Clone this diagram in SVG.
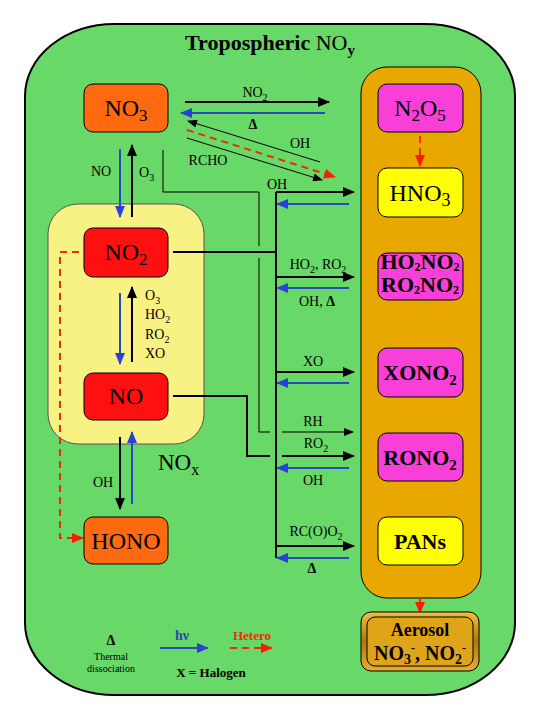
<svg xmlns="http://www.w3.org/2000/svg" width="540" height="720" viewBox="0 0 540 720">
<defs>
<marker id="ak" markerUnits="userSpaceOnUse" markerWidth="12" markerHeight="10" refX="11" refY="5" orient="auto"><path d="M0,0 L12,5 L0,10 z" fill="#000"/></marker>
<marker id="aks" markerUnits="userSpaceOnUse" markerWidth="10" markerHeight="8" refX="9" refY="4" orient="auto"><path d="M0,0 L10,4 L0,8 z" fill="#000"/></marker>
<marker id="ab" markerUnits="userSpaceOnUse" markerWidth="12" markerHeight="10" refX="11" refY="5" orient="auto"><path d="M0,0 L12,5 L0,10 z" fill="#2a40d8"/></marker>
<marker id="ar" markerUnits="userSpaceOnUse" markerWidth="12" markerHeight="10" refX="11" refY="5" orient="auto"><path d="M0,0 L12,5 L0,10 z" fill="#ff1a00"/></marker>
<linearGradient id="gold" x1="0" y1="0" x2="0" y2="1"><stop offset="0" stop-color="#f0c040"/><stop offset="0.5" stop-color="#b07810"/><stop offset="1" stop-color="#e8b030"/></linearGradient>
</defs>
<style>
.t{font-family:"Liberation Serif","Times New Roman",serif;fill:#000}
.lbl{font-size:14px;text-anchor:middle}
.lbs{font-size:14px}
.node{font-size:24px;text-anchor:middle}
.bn{font-size:22px;font-weight:bold;text-anchor:middle}
.k{stroke:#000;stroke-width:2;fill:none}
.kt{stroke:#000;stroke-width:1;fill:none}
.b{stroke:#2a4ab8;stroke-width:2;fill:none}
.r{stroke:#e83000;stroke-width:2;fill:none;stroke-dasharray:7,5}
.box{stroke:#000;stroke-width:1}
</style>
<rect x="0" y="0" width="540" height="720" fill="#fff"/>
<g id="outer">
<rect x="25" y="24" width="490" height="671" rx="90" ry="72" fill="#68d868" stroke="#000" stroke-width="2"/>
<text class="t" x="270" y="50" font-size="22" font-weight="bold" text-anchor="middle">Tropospheric <tspan font-weight="normal">NO</tspan><tspan font-size="15" dy="5">y</tspan></text>
</g>
<g id="panel">
<rect x="361" y="67" width="120" height="531" rx="26" fill="#e8a800" stroke="#000" stroke-width="1"/>
</g>
<g id="NOx">
<rect x="48" y="204" width="156" height="240" rx="30" fill="#f8f284" stroke="#555" stroke-width="1"/>
<text class="t" x="158" y="470" font-size="23">NO<tspan font-size="16" dy="5">x</tspan></text>
</g>
<g id="connectors">
<line class="k" x1="185" y1="102" x2="329" y2="102" marker-end="url(#ak)"/>
<line class="b" x1="325" y1="113" x2="181" y2="113" marker-end="url(#ab)"/>
<line class="kt" x1="320" y1="162" x2="188" y2="121" marker-end="url(#aks)"/>
<line class="r" x1="187" y1="130" x2="335" y2="177" marker-end="url(#ar)"/>
<line class="kt" x1="187" y1="138" x2="322" y2="180" marker-end="url(#aks)"/>
<line class="b" x1="120" y1="149" x2="120" y2="217" marker-end="url(#ab)"/>
<line class="k" x1="132" y1="217" x2="132" y2="145" marker-end="url(#ak)"/>
<polyline class="kt" points="163,150 163,192 259,192 259,246"/>
<polyline class="kt" points="259,258 259,432 270,432"/>
<line class="kt" x1="282" y1="432" x2="353" y2="432" marker-end="url(#aks)"/>
<line class="k" x1="276" y1="192" x2="276" y2="558"/>
<line class="k" x1="276" y1="192" x2="354" y2="192" marker-end="url(#ak)"/>
<line class="b" x1="349" y1="204" x2="277" y2="204" marker-end="url(#ab)"/>
<line class="k" x1="173" y1="252" x2="276" y2="252"/>
<line class="k" x1="276" y1="277" x2="354" y2="277" marker-end="url(#ak)"/>
<line class="b" x1="349" y1="288" x2="277" y2="288" marker-end="url(#ab)"/>
<line class="k" x1="276" y1="372" x2="354" y2="372" marker-end="url(#ak)"/>
<line class="b" x1="349" y1="383" x2="277" y2="383" marker-end="url(#ab)"/>
<polyline class="k" points="173,396 247,396 247,456 270,456"/>
<line class="k" x1="282" y1="456" x2="354" y2="456" marker-end="url(#ak)"/>
<line class="b" x1="349" y1="468" x2="277" y2="468" marker-end="url(#ab)"/>
<line class="k" x1="276" y1="546" x2="354" y2="546" marker-end="url(#ak)"/>
<line class="b" x1="349" y1="558" x2="277" y2="558" marker-end="url(#ab)"/>
<line class="b" x1="120" y1="293" x2="120" y2="364" marker-end="url(#ab)"/>
<line class="k" x1="132" y1="362" x2="132" y2="287" marker-end="url(#ak)"/>
<polyline class="r" points="79,252 60,252 60,538 83,538" marker-end="url(#ar)"/>
<line class="k" x1="120" y1="437" x2="120" y2="509" marker-end="url(#ak)"/>
<line class="b" x1="132" y1="504" x2="132" y2="432" marker-end="url(#ab)"/>
<line class="r" x1="420" y1="136" x2="420" y2="166" marker-end="url(#ar)"/>
<line class="r" x1="420" y1="598" x2="420" y2="613" stroke-dasharray="5,3" marker-end="url(#ar)"/>
</g>
<g id="labels">
<text class="t lbl" x="255" y="97">NO<tspan font-size="10" dy="4">2</tspan></text>
<text class="t lbl" x="253" y="129" font-weight="bold">Δ</text>
<text class="t lbl" x="300" y="148">OH</text>
<text class="t lbl" x="208" y="165">RCHO</text>
<text class="t lbl" x="101" y="176">NO</text>
<text class="t lbs" x="139" y="177">O<tspan font-size="10" dy="4">3</tspan></text>
<text class="t lbl" x="277" y="189">OH</text>
<text class="t lbl" x="318" y="269">HO<tspan font-size="10" dy="4">2</tspan><tspan dy="-4">, RO</tspan><tspan font-size="10" dy="4">2</tspan></text>
<text class="t lbl" x="317" y="306">OH, <tspan font-weight="bold">Δ</tspan></text>
<text class="t lbl" x="313" y="366">XO</text>
<text class="t lbl" x="313" y="426">RH</text>
<text class="t lbl" x="316" y="448">RO<tspan font-size="10" dy="4">2</tspan></text>
<text class="t lbl" x="313" y="485">OH</text>
<text class="t lbl" x="316" y="536">RC(O)O<tspan font-size="10" dy="4">2</tspan></text>
<text class="t lbl" x="312" y="573" font-weight="bold">Δ</text>
<text class="t lbs" x="145" y="300">O<tspan font-size="10" dy="4">3</tspan></text>
<text class="t lbs" x="145" y="319">HO<tspan font-size="10" dy="4">2</tspan></text>
<text class="t lbs" x="145" y="339">RO<tspan font-size="10" dy="4">2</tspan></text>
<text class="t lbs" x="145" y="358">XO</text>
<text class="t lbl" x="103" y="487">OH</text>
</g>
<g id="NO3">
<rect class="box" x="84" y="84" width="84" height="48" rx="9" fill="#ff6a10"/>
<text class="t node" x="126" y="116">NO<tspan font-size="17" dy="5">3</tspan></text>
</g>
<g id="NO2">
<rect class="box" x="84" y="228" width="84" height="49" rx="9" fill="#ff1010"/>
<text class="t node" x="126" y="260">NO<tspan font-size="17" dy="5">2</tspan></text>
</g>
<g id="NO">
<rect class="box" x="84" y="373" width="84" height="47" rx="9" fill="#ff1010"/>
<text class="t node" x="126" y="404">NO</text>
</g>
<g id="HONO">
<rect class="box" x="84" y="517" width="84" height="47" rx="9" fill="#ff6a10"/>
<text class="t node" x="126" y="549">HONO</text>
</g>
<g id="N2O5">
<rect class="box" x="378" y="84" width="85" height="48" rx="9" fill="#f840d8"/>
<text class="t node" x="420" y="116">N<tspan font-size="17" dy="5">2</tspan><tspan dy="-5">O</tspan><tspan font-size="17" dy="5">5</tspan></text>
</g>
<g id="HNO3">
<rect class="box" x="378" y="168" width="85" height="49" rx="9" fill="#ffff00"/>
<text class="t node" x="420" y="201" font-size="26">HNO<tspan font-size="18" dy="5">3</tspan></text>
</g>
<g id="HO2NO2">
<rect class="box" x="378" y="253" width="85" height="47" rx="9" fill="#f840d8"/>
<text class="t bn" x="420" y="269" font-size="17">HO<tspan font-size="12" dy="2">2</tspan><tspan dy="-2">NO</tspan><tspan font-size="12" dy="2">2</tspan></text>
<text class="t bn" x="420" y="292" font-size="17">RO<tspan font-size="12" dy="2">2</tspan><tspan dy="-2">NO</tspan><tspan font-size="12" dy="2">2</tspan></text>
</g>
<g id="XONO2">
<rect class="box" x="378" y="348" width="85" height="49" rx="9" fill="#f840d8"/>
<text class="t bn" x="420" y="380">XONO<tspan font-size="15" dy="5">2</tspan></text>
</g>
<g id="RONO2">
<rect class="box" x="378" y="433" width="85" height="48" rx="9" fill="#f840d8"/>
<text class="t bn" x="420" y="465">RONO<tspan font-size="15" dy="5">2</tspan></text>
</g>
<g id="PANs">
<rect class="box" x="378" y="517" width="85" height="48" rx="9" fill="#ffff00"/>
<text class="t bn" x="420" y="549">PANs</text>
</g>
<g id="Aerosol">
<rect x="361" y="612" width="118" height="59" rx="10" fill="url(#gold)" stroke="#000" stroke-width="1"/>
<rect x="367" y="617" width="106" height="49" rx="8" fill="#e0a418" stroke="#000" stroke-width="1"/>
<text class="t" x="420" y="636" font-size="18" font-weight="bold" text-anchor="middle">Aerosol</text>
<text class="t" x="420" y="660" font-size="20" font-weight="bold" text-anchor="middle">NO<tspan font-size="14" dy="4">3</tspan><tspan font-size="12" dy="-12">-</tspan><tspan dy="8">, NO</tspan><tspan font-size="14" dy="4">2</tspan><tspan font-size="12" dy="-12">-</tspan></text>
</g>
<g id="legend">
<text class="t" x="111" y="645" font-size="14" font-weight="bold" text-anchor="middle">Δ</text>
<text class="t" x="111" y="660" font-size="10" text-anchor="middle">Thermal</text>
<text class="t" x="111" y="672" font-size="10" text-anchor="middle">dissociation</text>
<text class="t" x="182" y="640" font-size="14" font-weight="bold" text-anchor="middle" style="fill:#2a4ab8">hν</text>
<line class="b" x1="160" y1="648" x2="208" y2="648" marker-end="url(#ab)"/>
<text class="t" x="252" y="640" font-size="13" font-weight="bold" text-anchor="middle" style="fill:#e83000">Hetero</text>
<line class="r" x1="230" y1="648" x2="272" y2="648" stroke-dasharray="6,5" marker-end="url(#ar)"/>
<text class="t" x="211" y="677" font-size="13" font-weight="bold" text-anchor="middle">X = Halogen</text>
</g>
</svg>
